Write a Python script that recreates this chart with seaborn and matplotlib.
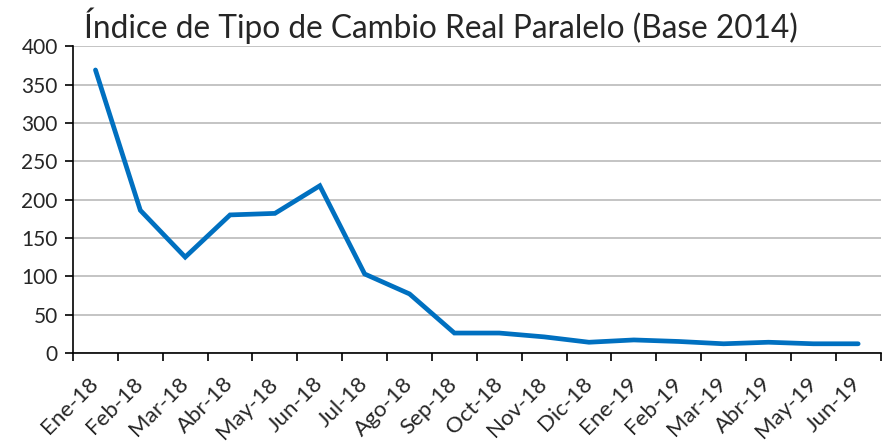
import numpy as np
import pandas as pd
import matplotlib
matplotlib.use("Agg")
import matplotlib.pyplot as plt
import matplotlib.transforms as mtransforms
import seaborn as sns
from matplotlib.ticker import FixedLocator

# data
months = ["Ene-18", "Feb-18", "Mar-18", "Abr-18", "May-18", "Jun-18",
          "Jul-18", "Ago-18", "Sep-18", "Oct-18", "Nov-18", "Dic-18",
          "Ene-19", "Feb-19", "Mar-19", "Abr-19", "May-19", "Jun-19"]
index_values = [369, 186, 125, 180, 182, 218,
                103, 77, 26, 26, 21, 14,
                17, 15, 12, 14, 12, 12]
y_ticks = [0, 50, 100, 150, 200, 250, 300, 350, 400]

df = pd.DataFrame({"mes": months, "indice": index_values})
df["pos"] = np.arange(len(months))

sns.set_style("white")
plt.rcParams["font.family"] = ["Lato", "DejaVu Sans"]

fig = plt.figure(figsize=(8.94, 4.44), dpi=100)
ax = fig.add_axes([0.0817, 0.205, 0.9033, 0.691])

sns.lineplot(data=df, x="pos", y="indice", ax=ax, color="#0070C0",
             linewidth=3.4, solid_joinstyle="miter")

ax.set_xlim(-0.5, len(months) - 0.5)
ax.set_ylim(0, 400)
ax.set_yticks(y_ticks)
ax.yaxis.grid(True, color="#BFBFBF", linewidth=1.3)
ax.set_axisbelow(True)

ax.set_xticks(df["pos"])
ax.set_xticklabels(months, rotation=45, ha="right", va="center",
                   rotation_mode="anchor")
# nudge the rotated labels a little right/down like the original
shift = mtransforms.ScaledTranslation(5 / 100, -4 / 100, fig.dpi_scale_trans)
for lbl in ax.get_xticklabels():
    lbl.set_transform(lbl.get_transform() + shift)
ax.xaxis.set_minor_locator(FixedLocator(np.arange(len(months) + 1) - 0.5))
ax.tick_params(axis="x", which="major", length=0, pad=20, labelsize=16)
ax.tick_params(axis="x", which="minor", length=6, width=1.2, direction="out",
               color="black", bottom=True)
ax.tick_params(axis="y", length=6, width=1.2, direction="out", color="black",
               labelsize=15, left=True, pad=5)

for side in ["top", "right"]:
    ax.spines[side].set_visible(False)
for side in ["left", "bottom"]:
    ax.spines[side].set_color("black")
    ax.spines[side].set_linewidth(1.2)

ax.set_xlabel("")
ax.set_ylabel("")
fig.text(0.094, 0.914, "Índice de Tipo de Cambio Real Paralelo (Base 2014)",
         fontsize=22.8, ha="left", va="baseline")

fig.savefig("out.png", dpi=100)
